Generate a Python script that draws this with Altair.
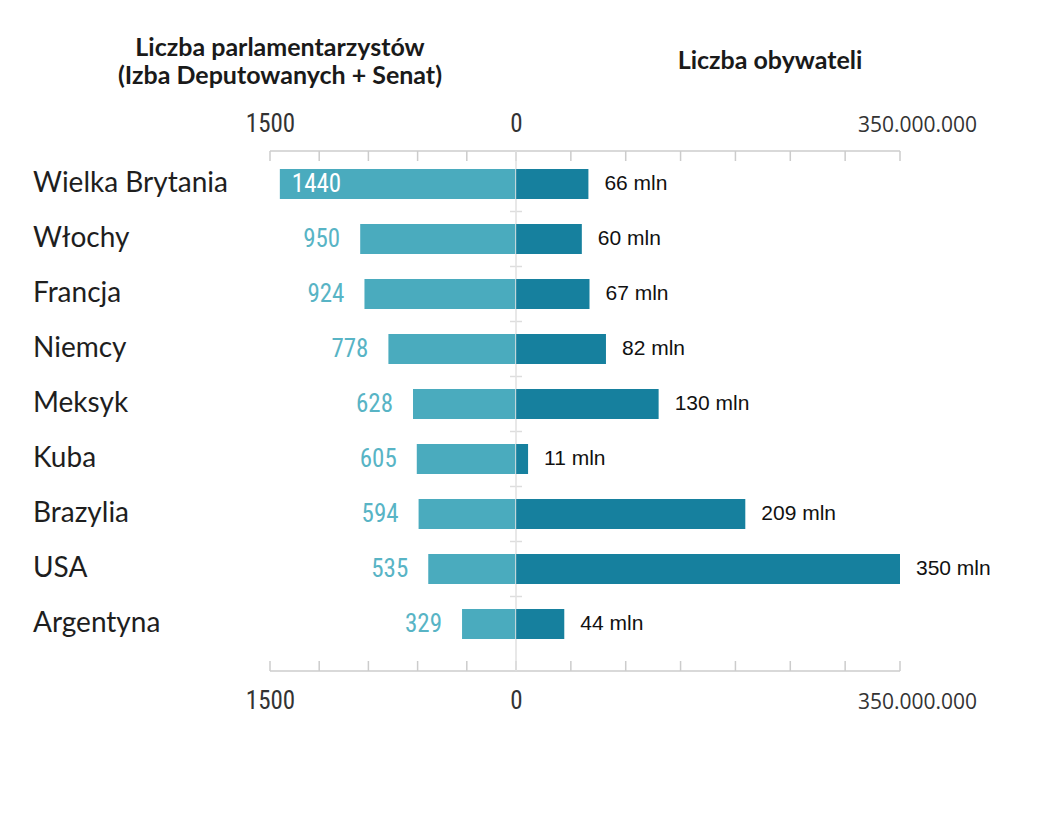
import altair as alt
import pandas as pd

# ---------------- data ----------------
countries = ["Wielka Brytania", "Włochy", "Francja", "Niemcy", "Meksyk",
             "Kuba", "Brazylia", "USA", "Argentyna"]
parliamentarians = [1440, 950, 924, 778, 628, 605, 594, 535, 329]
citizens_mln = [66, 60, 67, 82, 130, 11, 209, 350, 44]

left_ticks = [0, 300, 600, 900, 1200, 1500]
left_tick_labels = [1500, 0]
right_ticks = [0, 50, 100, 150, 200, 250, 300, 350]
right_tick_labels = [350]
center = [0]

title_left = ["Liczba parlamentarzystów", "(Izba Deputowanych + Senat)"]
title_right = "Liczba obywateli"
unit = " mln"

df = pd.DataFrame({"country": countries, "parl": parliamentarians, "cit": citizens_mln})
inner_rows = pd.DataFrame({"country": countries[:-1]})
lt = pd.DataFrame({"v": left_ticks})
rt = pd.DataFrame({"v": right_ticks})
l_line = pd.DataFrame({"lo": [min(left_ticks)], "hi": [max(left_ticks)]})
r_line = pd.DataFrame({"lo": [min(right_ticks)], "hi": [max(right_ticks)]})
c_df = pd.DataFrame({"v": center})

# ---------------- style ----------------
H = 520
LW = 246
RW = 384
NW = 262
TICK = 10

LEFT_C = "#4aabbe"
RIGHT_C = "#16809e"
LABEL_C = "#58b4c5"
GRID_C = "#cccccc"
CENTER_C = "#dddddd"
NARROW = "'Liberation Sans Narrow', 'Arial Narrow', 'Roboto Condensed', 'DejaVu Sans Condensed', Roboto, sans-serif"
GEO = "Lato, 'Open Sans', sans-serif"

yscale = alt.Scale(type="band", domain=countries, paddingInner=0.4545,
                   paddingOuter=0.4545, align=0.36)
Y = alt.Y("country:N", scale=yscale, axis=None)

xl_scale = alt.Scale(domain=[0, 1500], reverse=True, nice=False)
xr_scale = alt.Scale(domain=[0, 350], nice=False)


def axis_cfg(orient, values, font, size, pad, **kw):
    return alt.Axis(orient=orient, values=values, domain=False, ticks=False, tickSize=0,
                    grid=False, labelFont=font, labelFontSize=size, labelColor="#333333",
                    labelBaseline="alphabetic", labelPadding=pad, labelFlush=False,
                    labelOverlap=False, title=None, **kw)


# ---------------- names column ----------------
names = alt.Chart(df).mark_text(
    align="left", baseline="middle", font=GEO, fontSize=28, color="#1e1e1e"
).encode(
    y=Y, x=alt.value(25), text="country:N"
).properties(width=NW, height=H)

# ---------------- left half ----------------
l_bars = alt.Chart(df).mark_bar(color=LEFT_C).encode(
    y=Y,
    x=alt.X("parl:Q", scale=xl_scale,
            axis=axis_cfg("top", left_tick_labels, NARROW, 25, 20, format="d")),
)
l_text_out = alt.Chart(df).transform_filter("datum.parl < 1200").mark_text(
    align="right", baseline="middle", dx=-20, font=NARROW, fontSize=25, color=LABEL_C
).encode(
    y=Y,
    x=alt.X("parl:Q", scale=xl_scale,
            axis=axis_cfg("bottom", left_tick_labels, NARROW, 25, 37, format="d")),
    text="parl:Q",
)
l_text_in = alt.Chart(df).transform_filter("datum.parl >= 1200").mark_text(
    align="left", baseline="middle", dx=12, font=NARROW, fontSize=25, color="white"
).encode(
    y=Y, x=alt.X("parl:Q", scale=xl_scale, axis=None), text="parl:Q"
)
l_top_line = alt.Chart(l_line).mark_rule(color=GRID_C, strokeWidth=1.5).encode(
    x=alt.X("lo:Q", scale=xl_scale, axis=None), x2="hi:Q", y=alt.value(0))
l_bot_line = alt.Chart(l_line).mark_rule(color=GRID_C, strokeWidth=1.5).encode(
    x=alt.X("lo:Q", scale=xl_scale, axis=None), x2="hi:Q", y=alt.value(H))
l_top_ticks = alt.Chart(lt).mark_rule(color=GRID_C, strokeWidth=1.5).encode(
    x=alt.X("v:Q", scale=xl_scale, axis=None), y=alt.value(0), y2=alt.value(TICK))
l_bot_ticks = alt.Chart(lt).mark_rule(color=GRID_C, strokeWidth=1.5).encode(
    x=alt.X("v:Q", scale=xl_scale, axis=None), y=alt.value(H - TICK), y2=alt.value(H))

left = alt.layer(
    l_top_line, l_bot_line, l_top_ticks, l_bot_ticks, l_bars, l_text_out, l_text_in
).properties(
    width=LW, height=H,
    title=alt.Title(title_left, font=GEO, fontSize=25, fontWeight="bold", color="#1a1a1a",
                    anchor="middle", dx=-113, offset=22, lineHeight=28),
)

# ---------------- right half ----------------
r_label_expr = "replace(format(datum.value * 1000000, ','), regexp(',', 'g'), '.')"
r_bars = alt.Chart(df).mark_bar(color=RIGHT_C).encode(
    y=Y,
    x=alt.X("cit:Q", scale=xr_scale,
            axis=axis_cfg("top", right_tick_labels, "'Open Sans', sans-serif", 21, 20,
                          labelExpr=r_label_expr, labelOffset=17)),
)
r_text = alt.Chart(df).transform_calculate(lab=f"datum.cit + '{unit}'").mark_text(
    align="left", baseline="middle", dx=16, font="'Liberation Sans', Arial, sans-serif",
    fontSize=21, color="#111111"
).encode(
    y=Y,
    x=alt.X("cit:Q", scale=xr_scale,
            axis=axis_cfg("bottom", right_tick_labels, "'Open Sans', sans-serif", 21, 37,
                          labelExpr=r_label_expr, labelOffset=17)),
    text="lab:N",
)
r_top_line = alt.Chart(r_line).mark_rule(color=GRID_C, strokeWidth=1.5).encode(
    x=alt.X("lo:Q", scale=xr_scale, axis=None), x2="hi:Q", y=alt.value(0))
r_bot_line = alt.Chart(r_line).mark_rule(color=GRID_C, strokeWidth=1.5).encode(
    x=alt.X("lo:Q", scale=xr_scale, axis=None), x2="hi:Q", y=alt.value(H))
r_top_ticks = alt.Chart(rt).mark_rule(color=GRID_C, strokeWidth=1.5).encode(
    x=alt.X("v:Q", scale=xr_scale, axis=None), y=alt.value(0), y2=alt.value(TICK))
r_bot_ticks = alt.Chart(rt).mark_rule(color=GRID_C, strokeWidth=1.5).encode(
    x=alt.X("v:Q", scale=xr_scale, axis=None), y=alt.value(H - TICK), y2=alt.value(H))
c_line = alt.Chart(c_df).mark_rule(color=CENTER_C, strokeWidth=1.5).encode(
    x=alt.X("v:Q", scale=xr_scale, axis=None), y=alt.value(0), y2=alt.value(H))
c_ticks = alt.Chart(inner_rows).mark_rule(color=CENTER_C, strokeWidth=1.5, yOffset=27.5).encode(
    y=Y, x=alt.value(-6), x2=alt.value(6))
c_over = alt.Chart(c_df).mark_rule(color="white", strokeWidth=1, opacity=0.25).encode(
    x=alt.X("v:Q", scale=xr_scale, axis=None), y=alt.value(0), y2=alt.value(H))

right = alt.layer(
    r_top_line, r_bot_line, r_top_ticks, r_bot_ticks, c_line, c_ticks, r_bars, c_over, r_text
).properties(
    width=RW, height=H,
    title=alt.Title(title_right, font=GEO, fontSize=25, fontWeight="bold", color="#1a1a1a",
                    anchor="middle", dx=62, offset=40),
)

chart = alt.hconcat(names, left, right, spacing=0, bounds="flush").properties(
    padding={"left": 0, "top": 28, "right": 5, "bottom": 5},
    background="white",
).configure_view(stroke=None)

chart.save("out.html", embed_options={"renderer": "svg", "actions": False})
